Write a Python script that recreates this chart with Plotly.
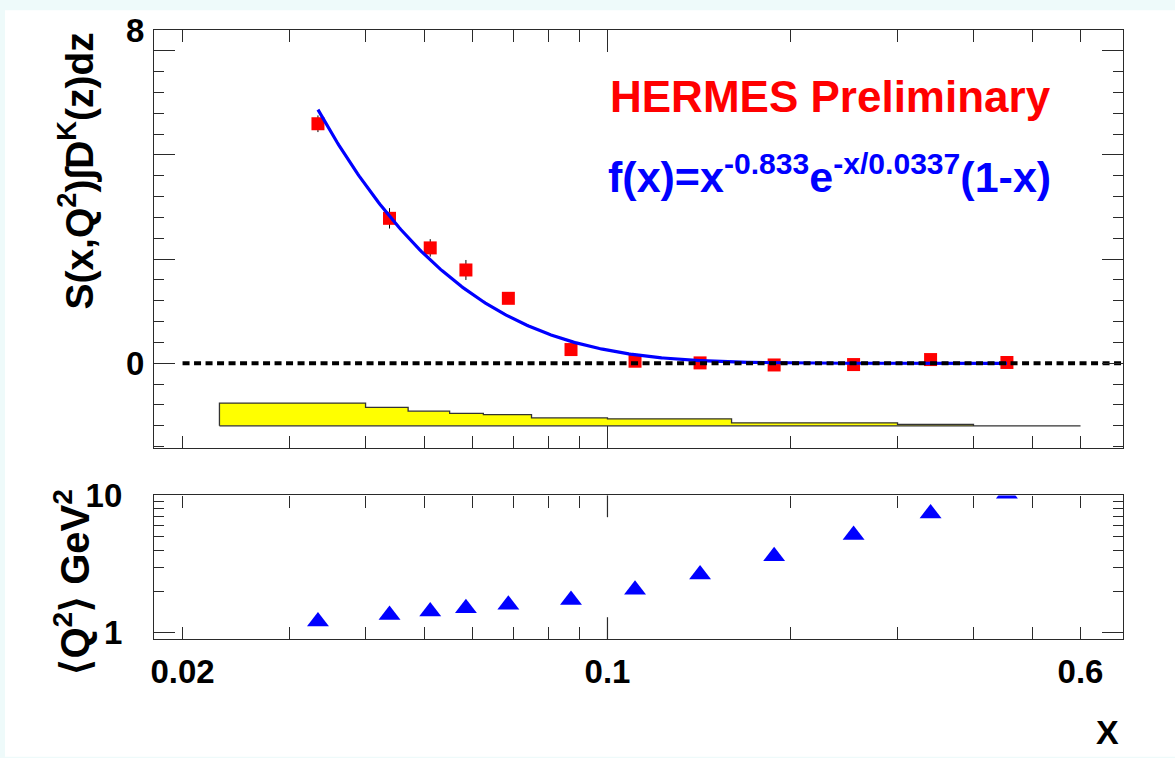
import numpy as np
import plotly.graph_objects as go

# ---- measured kaon purity integral vs. x (HERMES preliminary) ----
x_mean = [0.0334, 0.0438, 0.0511, 0.0585, 0.0687, 0.0871,
          0.111, 0.142, 0.188, 0.254, 0.340, 0.454]
s_int = [5.75, 3.48, 2.77, 2.24, 1.56, 0.33,
         0.05, 0.01, -0.04, -0.03, 0.09, 0.02]
s_err = [0.20, 0.245, 0.21, 0.24, 0.13, 0.10,
         0.08, 0.08, 0.08, 0.08, 0.10, 0.10]

# mean Q^2 per bin [GeV^2]
q2_mean = [1.21, 1.35, 1.43, 1.51, 1.60, 1.73,
           2.06, 2.66, 3.61, 5.14, 7.39, 10.3]

# systematic uncertainty band (step histogram drawn at the bottom)
syst_edges = [0.023, 0.040, 0.047, 0.055, 0.0625, 0.075,
              0.10, 0.16, 0.30, 0.40, 0.60]
syst_size = [0.545, 0.443, 0.350, 0.300, 0.270, 0.190,
             0.167, 0.072, 0.034, 0.0]
syst_base = -1.50

# fit parameters: f(x) = x^a * exp(-x/b) * (1-x)
fit_a = -0.833
fit_b = 0.0337

# ---- geometry ----
W, H = 1175, 758
ML, MR, MT, MB = 154, 52, 24, 119
PW, PH = W - ML - MR, H - MT - MB
top_dom = [(H - MB - 446) / PH, 1.0]
bot_dom = [0.0, (H - MB - 494) / PH]

FONT = "Liberation Sans, Arial, sans-serif"
LINE = "#2a2a2a"


def px_x(p):
    return (p - ML) / PW


def px_y(p):
    return (H - MB - p) / PH


fig = go.Figure()

# systematic band as a closed step polygon
bx, by = [syst_edges[0]], [syst_base]
for i, h in enumerate(syst_size):
    bx += [syst_edges[i], syst_edges[i + 1]]
    by += [syst_base + h, syst_base + h]
bx.append(syst_edges[-1])
by.append(syst_base)
bx.append(syst_edges[0])
by.append(syst_base)
fig.add_trace(go.Scatter(
    x=bx, y=by, mode="lines", fill="toself", fillcolor="#ffff00",
    line=dict(color="#333333", width=1.3), hoverinfo="skip",
    showlegend=False, xaxis="x", yaxis="y"))

# data points
fig.add_trace(go.Scatter(
    x=x_mean, y=s_int, mode="markers",
    marker=dict(symbol="square", size=13, color="#ff0000"),
    error_y=dict(type="data", array=s_err, color="black", thickness=1, width=0),
    showlegend=False, xaxis="x", yaxis="y"))

# fit curve
xf = np.logspace(np.log10(x_mean[0]), np.log10(x_mean[-1]), 400)
yf = xf ** fit_a * np.exp(-xf / fit_b) * (1 - xf)
fig.add_trace(go.Scatter(
    x=xf, y=yf, mode="lines", line=dict(color="#0000ff", width=3.2),
    showlegend=False, xaxis="x", yaxis="y"))

# zero reference line
fig.add_trace(go.Scatter(
    x=[0.02, 0.70], y=[0, 0], mode="lines",
    line=dict(color="black", width=4, dash="7px,4.5px"),
    showlegend=False, xaxis="x", yaxis="y"))

# mean Q^2
fig.add_trace(go.Scatter(
    x=x_mean, y=q2_mean, mode="markers",
    marker=dict(symbol="triangle-up", size=19, color="#0000ff"),
    showlegend=False, xaxis="x2", yaxis="y2"))

xr = [np.log10(0.01795), np.log10(0.7047)]
x_minor_all = [0.02, 0.03, 0.04, 0.05, 0.06, 0.07, 0.08, 0.09,
               0.2, 0.3, 0.4, 0.5, 0.6]
x_minor_bot = [v for v in x_minor_all if v not in (0.02, 0.6)]

axis_common = dict(showline=True, linecolor=LINE, linewidth=1.2, mirror="ticks",
                   ticks="inside", tickcolor=LINE, tickwidth=1.2,
                   showgrid=False, zeroline=False)
tickfont = dict(family=FONT, size=33, color="black", weight="bold")

fig.update_layout(
    width=W, height=H,
    margin=dict(l=ML, r=MR, t=MT, b=MB),
    paper_bgcolor="#eefafa", plot_bgcolor="white",
    showlegend=False,
    xaxis=dict(domain=[0, 1], anchor="y", type="log", range=xr,
               tickvals=[0.1], ticklen=22, showticklabels=False,
               minor=dict(tickvals=x_minor_all, ticklen=12, ticks="inside",
                          tickcolor=LINE, tickwidth=1.2),
               **axis_common),
    yaxis=dict(domain=top_dom, anchor="x", range=[-2.03, 8.0],
               tickvals=[0, 2.5, 5, 7.5, 8], ticktext=["0", "", "", "", "8"],
               ticklen=21, tickfont=tickfont, ticklabelstandoff=2,
               minor=dict(tickvals=[-2, -1.5, -1, -0.5, 0.5, 1, 1.5, 2, 3, 3.5,
                                    4, 4.5, 5.5, 6, 6.5, 7],
                          ticklen=10, ticks="inside", tickcolor=LINE, tickwidth=1.2),
               **axis_common),
    xaxis2=dict(domain=[0, 1], anchor="y2", type="log", range=xr,
                tickvals=[0.02, 0.1, 0.6], ticktext=["0.02", "0.1", "0.6"],
                ticklen=12, tickfont=tickfont, ticklabelstandoff=3,
                minor=dict(tickvals=x_minor_bot, ticklen=12, ticks="inside",
                           tickcolor=LINE, tickwidth=1.2),
                **axis_common),
    yaxis2=dict(domain=bot_dom, anchor="x2", type="log", range=[-0.045, 1.0],
                tickvals=[1, 10], ticktext=["1", "10"],
                ticklen=21, tickfont=tickfont, ticklabelstandoff=24,
                minor=dict(tickvals=[2, 3, 4, 5, 6, 7, 8, 9], ticklen=10,
                           ticks="inside", tickcolor=LINE, tickwidth=1.2),
                **axis_common),
)

# white page area and the long 0.1 ticks of the lower panel
fig.add_shape(type="rect", xref="paper", yref="paper", layer="below",
              x0=px_x(5), x1=px_x(W), y0=px_y(H), y1=px_y(4),
              fillcolor="white", line=dict(width=0))
bh = 22 / (bot_dom[1] * PH)
for y0, y1 in ((0, bh), (1, 1 - bh)):
    fig.add_shape(type="line", xref="x2", yref="y2 domain",
                  x0=0.1, x1=0.1, y0=y0, y1=y1,
                  line=dict(color=LINE, width=1.2))

# titles and labels
fig.add_annotation(xref="paper", yref="paper", x=px_x(76), y=px_y(167),
                   text="S(x,Q<sup>2</sup>)\u222bD<sup>K</sup>(z)dz",
                   textangle=-90, showarrow=False, xanchor="center", yanchor="middle",
                   font=dict(family=FONT, size=39, color="black", weight="bold"))
fig.add_annotation(xref="paper", yref="paper", x=px_x(72), y=px_y(582),
                   text="\u27e8Q<sup>2</sup>\u27e9 GeV<sup>2</sup>",
                   textangle=-90, showarrow=False, xanchor="center", yanchor="middle",
                   font=dict(family=FONT, size=40, color="black", weight="bold"))
fig.add_annotation(xref="paper", yref="paper", x=px_x(1107), y=px_y(733),
                   text="X", showarrow=False, xanchor="center", yanchor="middle",
                   font=dict(family=FONT, size=34, color="black", weight="bold"))
fig.add_annotation(xref="paper", yref="paper", x=px_x(608), y=px_y(91),
                   text="HERMES Preliminary", showarrow=False,
                   xanchor="left", yanchor="middle",
                   font=dict(family=FONT, size=44, color="#ff0000", weight="bold"))
fig.add_annotation(xref="paper", yref="paper", x=px_x(606), y=px_y(169),
                   text="f(x)=x<sup>-0.833</sup>e<sup>-x/0.0337</sup>(1-x)",
                   showarrow=False, xanchor="left", yanchor="middle",
                   font=dict(family=FONT, size=43, color="#0000ff", weight="bold"))

fig.write_html("out.html")
